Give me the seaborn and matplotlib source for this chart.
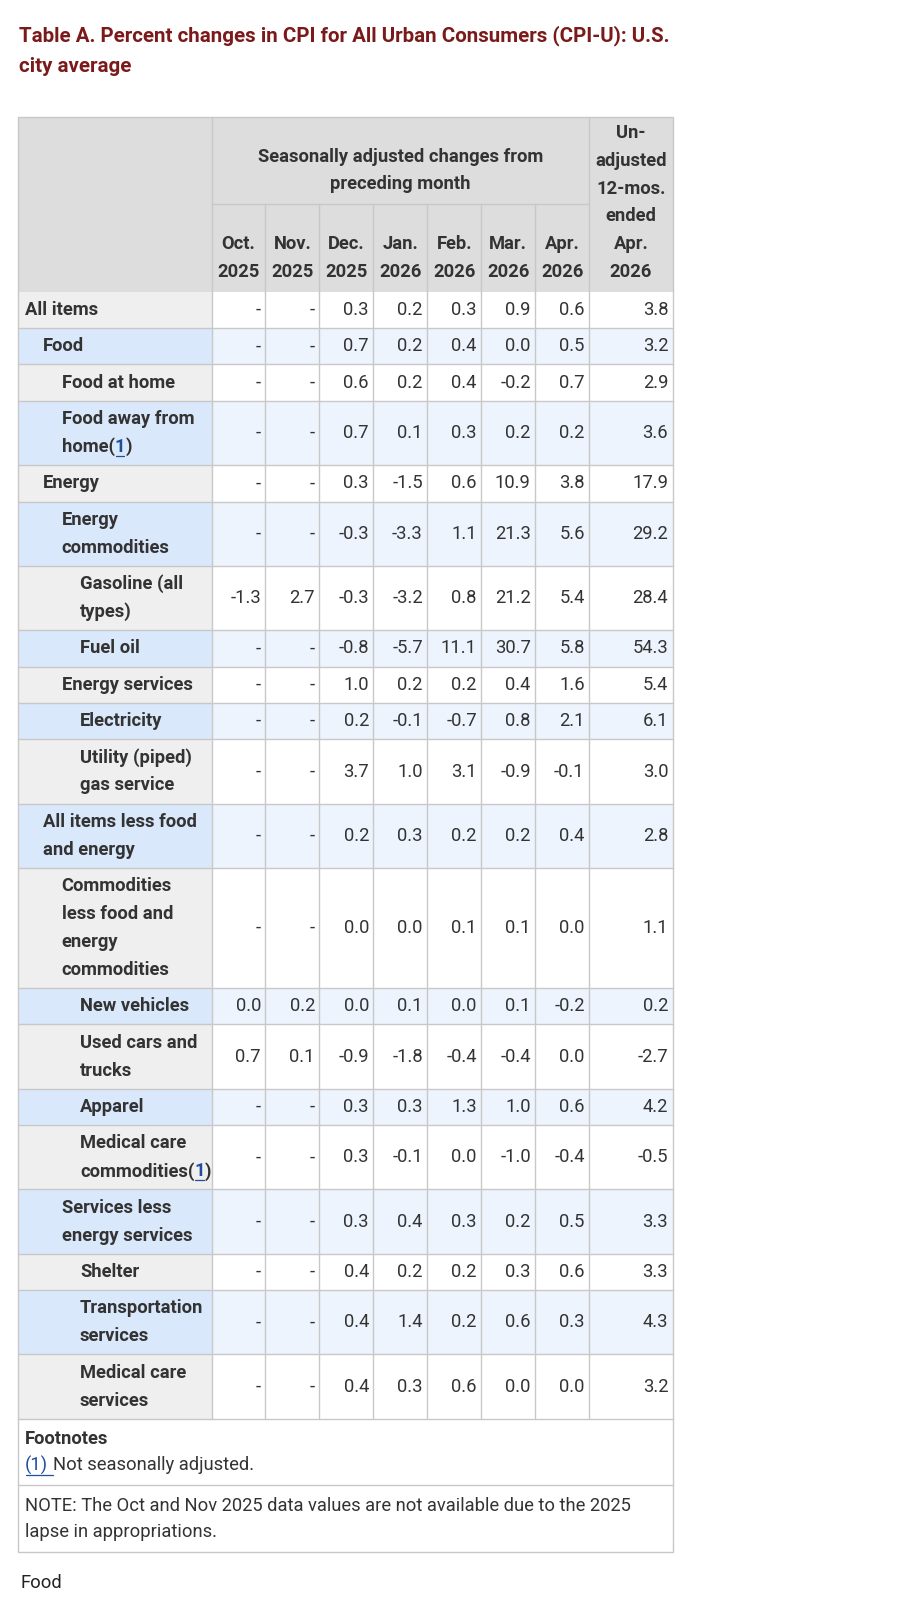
import numpy as np
import pandas as pd
import matplotlib.pyplot as plt
import seaborn as sns
from matplotlib.patches import Rectangle

sns.set_theme(style="white")
plt.rcParams['font.family'] = ['Roboto', 'DejaVu Sans']

# Table content
title_lines = ["Table A. Percent changes in CPI for All Urban Consumers (CPI-U): U.S.",
               "city average"]
span_header = ["Seasonally adjusted changes from", "preceding month"]
last_header = ["Un-", "adjusted", "12-mos.", "ended", "Apr.", "2026"]
month_headers = ["Oct.\n2025", "Nov.\n2025", "Dec.\n2025", "Jan.\n2026",
                 "Feb.\n2026", "Mar.\n2026", "Apr.\n2026"]

items = ["All items", "Food", "Food at home", "Food away from\nhome", "Energy",
         "Energy\ncommodities", "Gasoline (all\ntypes)", "Fuel oil", "Energy services",
         "Electricity", "Utility (piped)\ngas service", "All items less food\nand energy",
         "Commodities\nless food and\nenergy\ncommodities", "New vehicles",
         "Used cars and\ntrucks", "Apparel", "Medical care\ncommodities",
         "Services less\nenergy services", "Shelter", "Transportation\nservices",
         "Medical care\nservices"]
levels = [0, 1, 2, 2, 1, 2, 3, 3, 2, 3, 3, 1, 2, 3, 3, 3, 3, 2, 3, 3, 3]
footnote_1 = [False, False, False, True, False, False, False, False, False, False, False,
              False, False, False, False, False, True, False, False, False, False]

oct_2025 = [None, None, None, None, None, None, -1.3, None, None, None, None,
            None, None, 0.0, 0.7, None, None, None, None, None, None]
nov_2025 = [None, None, None, None, None, None, 2.7, None, None, None, None,
            None, None, 0.2, 0.1, None, None, None, None, None, None]
dec_2025 = [0.3, 0.7, 0.6, 0.7, 0.3, -0.3, -0.3, -0.8, 1.0, 0.2, 3.7,
            0.2, 0.0, 0.0, -0.9, 0.3, 0.3, 0.3, 0.4, 0.4, 0.4]
jan_2026 = [0.2, 0.2, 0.2, 0.1, -1.5, -3.3, -3.2, -5.7, 0.2, -0.1, 1.0,
            0.3, 0.0, 0.1, -1.8, 0.3, -0.1, 0.4, 0.2, 1.4, 0.3]
feb_2026 = [0.3, 0.4, 0.4, 0.3, 0.6, 1.1, 0.8, 11.1, 0.2, -0.7, 3.1,
            0.2, 0.1, 0.0, -0.4, 1.3, 0.0, 0.3, 0.2, 0.2, 0.6]
mar_2026 = [0.9, 0.0, -0.2, 0.2, 10.9, 21.3, 21.2, 30.7, 0.4, 0.8, -0.9,
            0.2, 0.1, 0.1, -0.4, 1.0, -1.0, 0.2, 0.3, 0.6, 0.0]
apr_2026 = [0.6, 0.5, 0.7, 0.2, 3.8, 5.6, 5.4, 5.8, 1.6, 2.1, -0.1,
            0.4, 0.0, -0.2, 0.0, 0.6, -0.4, 0.5, 0.6, 0.3, 0.0]
unadj_12mo = [3.8, 3.2, 2.9, 3.6, 17.9, 29.2, 28.4, 54.3, 5.4, 6.1, 3.0,
              2.8, 1.1, 0.2, -2.7, 4.2, -0.5, 3.3, 3.3, 4.3, 3.2]

footnote_text = "Not seasonally adjusted."
note_lines = ["NOTE: The Oct and Nov 2025 data values are not available due to the 2025",
              "lapse in appropriations."]

df = pd.DataFrame({"item": items, "level": levels, "fn": footnote_1,
                   "oct": oct_2025, "nov": nov_2025, "dec": dec_2025, "jan": jan_2026,
                   "feb": feb_2026, "mar": mar_2026, "apr": apr_2026, "yr": unadj_12mo})
value_cols = ["oct", "nov", "dec", "jan", "feb", "mar", "apr", "yr"]

# colours
title_color = "#7a1a1a"
text_color = "#333333"
header_bg = "#dddddd"
gray_label = "#efefef"
blue_label = "#dae8fb"
blue_data = "#eef4fd"
grid_color = "#c8c8c8"
link_color = "#1f4e9e"

# layout (pixels)
left, right, top = 18.3, 672.7, 116.7
label_right = 211.5
month_w = 53.96
col_edges = [label_right + i * month_w for i in range(8)] + [right]
header_mid, header_bottom = 204.2, 291.7
line_h, pad = 27.9, 8.5
fs = 13.2

fig = plt.figure(figsize=(9, 16), dpi=100)
ax = fig.add_axes([0, 0, 1, 1])
ax.set_xlim(0, 900)
ax.set_ylim(1600, 0)
ax.axis('off')
renderer = fig.canvas.get_renderer()


def text_run(x, y, pieces, **kw):
    # draw pieces of text next to each other, return their data bboxes
    boxes = []
    for s, c in pieces:
        t = ax.text(x, y, s, color=c, ha='left', va='center', **kw)
        bb = t.get_window_extent(renderer).transformed(ax.transData.inverted())
        boxes.append(bb)
        x = bb.x1
    return boxes


# title
for i, line in enumerate(title_lines):
    ax.text(19, 35.5 + i * 31.5, line, color=title_color, fontsize=14.8,
            fontweight='bold', ha='left', va='center')

# header
ax.add_patch(Rectangle((left, top), right - left, header_bottom - top,
                       facecolor=header_bg, edgecolor='none'))
span_c = (col_edges[0] + col_edges[7]) / 2
for i, line in enumerate(span_header):
    ax.text(span_c, 157.5 + i * 26.5, line, color=text_color, fontsize=fs,
            fontweight='bold', ha='center', va='center')
last_c = (col_edges[7] + col_edges[8]) / 2
for i, line in enumerate(last_header):
    ax.text(last_c, 133.3 + i * 27.7, line, color=text_color, fontsize=fs,
            fontweight='bold', ha='center', va='center')
for j, lab in enumerate(month_headers):
    c = (col_edges[j] + col_edges[j + 1]) / 2
    for i, line in enumerate(lab.split("\n")):
        ax.text(c, 244 + i * 27.7, line, color=text_color, fontsize=fs,
                fontweight='bold', ha='center', va='center')
ax.plot([col_edges[0], col_edges[7]], [header_mid, header_mid], color=grid_color, lw=1)
for xe in col_edges[1:7]:
    ax.plot([xe, xe], [header_mid, header_bottom], color=grid_color, lw=1)

# body rows
y = header_bottom
for r, row in df.iterrows():
    lines = row["item"].split("\n")
    h = pad + line_h * len(lines)
    blue = r % 2 == 1
    ax.add_patch(Rectangle((left, y), label_right - left, h,
                           facecolor=blue_label if blue else gray_label, edgecolor='none'))
    ax.add_patch(Rectangle((label_right, y), right - label_right, h,
                           facecolor=blue_data if blue else 'white', edgecolor='none'))
    mid = y + h / 2
    lx = 25 + 18.3 * row["level"]
    for i, line in enumerate(lines):
        ly = mid + (i - (len(lines) - 1) / 2) * line_h
        if row["fn"] and i == len(lines) - 1:
            boxes = text_run(lx, ly, [(line + "(", text_color), ("1", link_color),
                                      (")", text_color)], fontsize=fs, fontweight='bold')
            b = boxes[1]
            ax.plot([b.x0 + 1, b.x1 - 1], [ly + 9, ly + 9], color=link_color, lw=0.9)
        else:
            ax.text(lx, ly, line, color=text_color, fontsize=fs, fontweight='bold',
                    ha='left', va='center')
    for j, col in enumerate(value_cols):
        v = row[col]
        s = "-" if pd.isna(v) else f"{v:.1f}"
        ax.text(col_edges[j + 1] - 4.5, mid, s, color=text_color, fontsize=fs,
                ha='right', va='center')
    y += h
    ax.plot([left, right], [y, y], color=grid_color, lw=1)
body_bottom = y

# vertical grid lines
for xe in [col_edges[0], col_edges[7]]:
    ax.plot([xe, xe], [top, body_bottom], color=grid_color, lw=1)
for xe in col_edges[1:7]:
    ax.plot([xe, xe], [header_bottom, body_bottom], color=grid_color, lw=1)

# footnotes
fn_bottom = body_bottom + 66.7
note_bottom = fn_bottom + 66.3
ax.text(25, body_bottom + 20.5, "Footnotes", color=text_color, fontsize=fs,
        fontweight='bold', ha='left', va='center')
fy = body_bottom + 46.5
boxes = text_run(25, fy, [("(1)", link_color), (" ", link_color), (footnote_text, text_color)],
                 fontsize=fs)
ax.plot([boxes[0].x0 + 1, boxes[1].x1], [fy + 9.5, fy + 9.5], color=link_color, lw=0.9)
ax.plot([left, right], [fn_bottom, fn_bottom], color=grid_color, lw=1)
for i, line in enumerate(note_lines):
    ax.text(25, fn_bottom + 20.3 + i * 26.5, line, color=text_color, fontsize=fs,
            ha='left', va='center')

# outer border
ax.add_patch(Rectangle((left, top), right - left, note_bottom - top,
                       facecolor='none', edgecolor=grid_color, lw=1))

ax.text(20, 1583, "Food", color="#222222", fontsize=fs, ha='left', va='center')

fig.savefig("out.png", dpi=100, facecolor='white')
